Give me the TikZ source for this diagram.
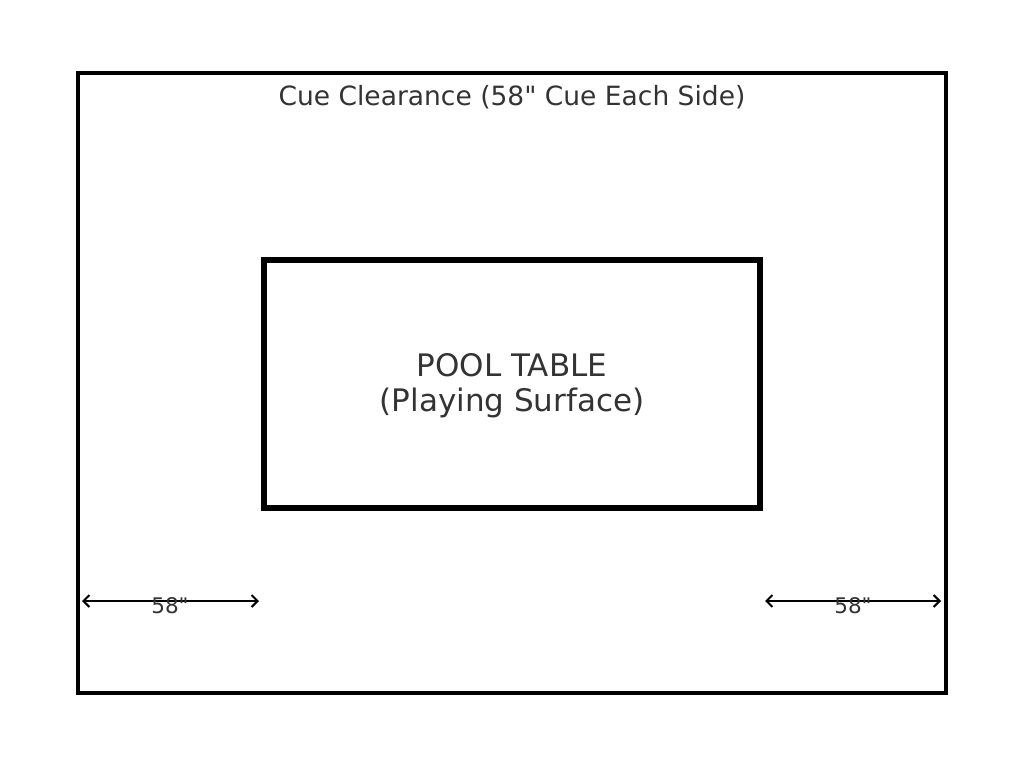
\documentclass[tikz,border=0pt]{standalone}
\usepackage{fontspec}
\setmainfont{DejaVu Sans}
\usetikzlibrary{arrows.meta}
\definecolor{txtgray}{HTML}{333333}
\tikzset{
  lbl/.style={text=txtgray, inner sep=0pt, align=center},
  dim/.style={line width=2pt, {Straight Barb[length=6pt,width=12pt]}-{Straight Barb[length=6pt,width=12pt]}}
}

\begin{document}
\begin{tikzpicture}[x=1pt,y=-1pt]
\useasboundingbox (0,0) rectangle (1024,768);
\draw[line width=4.5pt] (78,73) rectangle (946,693);
\draw[line width=6.5pt] (264,260) rectangle (760,508);
\node[lbl, font=\fontsize{26.5}{30}\selectfont] (title) at (512,97) {Cue Clearance (58\textquotedbl{} Cue Each Side)};
\node[lbl, font=\fontsize{31}{35}\selectfont] (table) at (512,385.5) {POOL TABLE\\(Playing Surface)};
\coordinate (l1) at (82,601);
\coordinate (l2) at (259,601);
\coordinate (r1) at (765,601);
\coordinate (r2) at (941,601);
\draw[dim] (l1) -- (l2);
\draw[dim] (r1) -- (r2);
\node[lbl, font=\fontsize{21.5}{24}\selectfont] (leftlbl) at (170,606) {58\textquotedbl};
\node[lbl, font=\fontsize{21.5}{24}\selectfont] (rightlbl) at (853,606) {58\textquotedbl};
\end{tikzpicture}
\end{document}
